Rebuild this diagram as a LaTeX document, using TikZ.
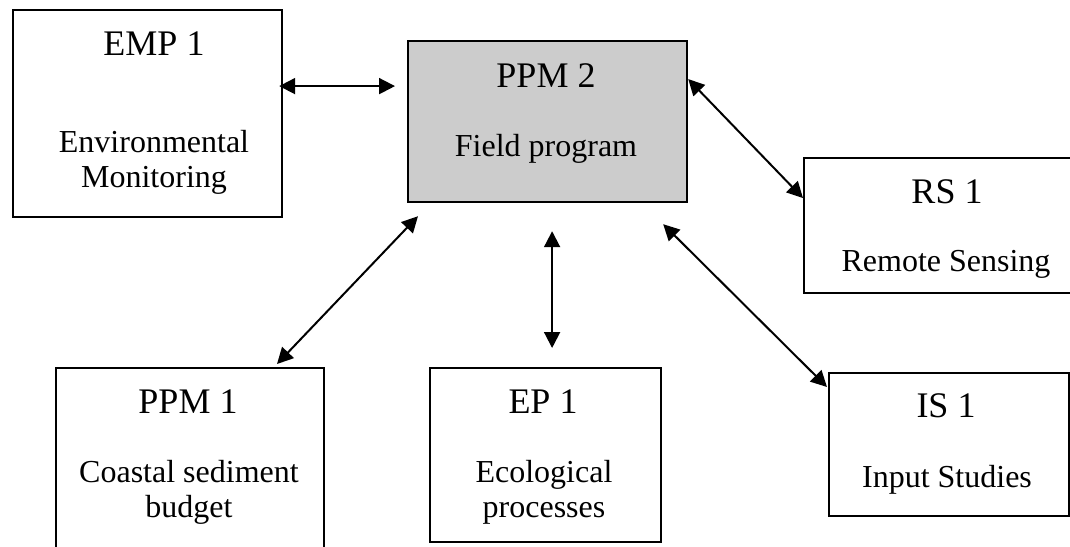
\documentclass[tikz,border=0pt]{standalone}
\usepackage{fontspec}
\setmainfont{Liberation Serif}
\usepackage{tikz}
\usetikzlibrary{arrows.meta, positioning}

\begin{document}
\begin{tikzpicture}[x=0.5pt, y=0.5pt]
    % Block styles
    \tikzstyle{block} = [rectangle, draw, line width=1.1pt, anchor=north west, inner sep=0pt]
    \tikzstyle{block_grey} = [block, fill=black!20]
    \tikzstyle{title} = [anchor=base, inner sep=0pt, font=\fontsize{18}{21}\selectfont]
    \tikzstyle{desc} = [anchor=base, inner sep=0pt, align=center, font=\fontsize{16}{17.5}\selectfont]
    \tikzstyle{link} = [{Triangle[length=8pt, width=8pt]}-{Triangle[length=8pt, width=8pt]}, line width=1pt]
    % Page frame
    \useasboundingbox (0,0) rectangle (1070,-546);
    \clip (0,0) rectangle (1070,-546);
    % Boxes
    \node[block, minimum width=134.5pt, minimum height=103.5pt] (emp) at (12,-9) {};
    \node[block_grey, minimum width=139.5pt, minimum height=80.5pt] (ppm2) at (407,-40) {};
    \node[block, minimum width=143pt, minimum height=67.5pt] (rs) at (803,-157) {};
    \node[block, minimum width=134pt, minimum height=95pt] (ppm1) at (55,-367) {};
    \node[block, minimum width=115.5pt, minimum height=87pt] (ep) at (429,-367) {};
    \node[block, minimum width=120pt, minimum height=71.5pt] (is) at (828,-372) {};
    % Texts (two-line texts sit on the baseline of their last line)
    \node[title] (emp_title) at (154,-55) {EMP 1};
    \node[desc] (emp_desc) at (154,-187) {Environmental\\Monitoring};
    \node[title] (ppm2_title) at (546,-87) {PPM 2};
    \node[desc] (ppm2_desc) at (546,-156) {Field program};
    \node[title] (rs_title) at (947,-203) {RS 1};
    \node[desc] (rs_desc) at (946,-271) {Remote Sensing};
    \node[title] (ppm1_title) at (188,-413) {PPM 1};
    \node[desc] (ppm1_desc) at (189,-517) {Coastal sediment\\budget};
    \node[title] (ep_title) at (543,-413) {EP 1};
    \node[desc] (ep_desc) at (544,-517) {Ecological\\processes};
    \node[title] (is_title) at (946,-417) {IS 1};
    \node[desc] (is_desc) at (947,-487) {Input Studies};
    % Connections
    \draw[link] ([shift={(-4,27.5)}]emp.east) -- ([shift={(-12,35.5)}]ppm2.west);
    \draw[link] ([shift={(0,42.5)}]ppm2.east) -- ([shift={(0,27.5)}]rs.west);
    \draw[link] ([shift={(11,-13)}]ppm2.south west) -- ([shift={(222,3)}]ppm1.north west);
    \draw[link] ([shift={(4.5,-28)}]ppm2.south) -- ([shift={(6.5,19)}]ep.north);
    \draw[link] ([shift={(-25,-21)}]ppm2.south east) -- ([shift={(-1,-15)}]is.north west);
\end{tikzpicture}
\end{document}
